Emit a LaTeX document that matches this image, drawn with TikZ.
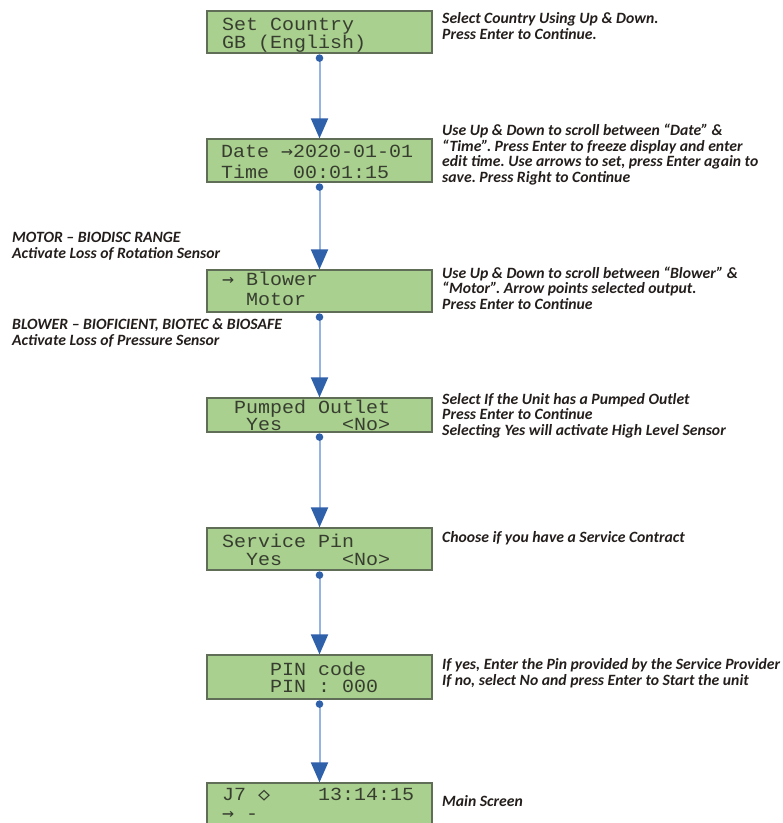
\documentclass[tikz,border=0pt]{standalone}
\usepackage{fontspec}
\usetikzlibrary{arrows.meta}
\newfontfamily\lcdfont[FakeStretch=1.08]{Liberation Mono}
\newfontfamily\lcdsym[FakeStretch=1.08]{DejaVu Sans Mono}
\newfontfamily\notefont{Carlito}
\frenchspacing
\definecolor{lcdgreen}{RGB}{169,208,142}
\definecolor{lcdedge}{RGB}{96,110,88}
\definecolor{lcdink}{RGB}{55,62,48}
\definecolor{flowline}{RGB}{150,180,225}
\definecolor{flowblue}{RGB}{47,96,170}
\definecolor{noteink}{RGB}{35,30,28}
\begin{document}
\begin{tikzpicture}[x=1pt,y=-1pt,
    lcd/.style={draw=lcdedge,line width=1.2pt,fill=lcdgreen,minimum width=225pt,minimum height=#1,inner sep=0pt},
    lcd/.default=42pt,
    row/.style={anchor=base west,inner sep=0pt,text=lcdink,font=\lcdfont\fontsize{18.5}{18.5}\selectfont},
    note/.style={anchor=base west,inner sep=0pt,align=left,text=noteink,font=\notefont\bfseries\itshape\fontsize{15.7}{15.5}\selectfont},
    flow/.style={draw=flowline,line width=2pt,-{Triangle[length=20pt,width=17pt,color=flowblue]}},
    dot/.style={fill=flowblue}]
    \useasboundingbox (0,0) rectangle (783,823);
    \clip (0,0) rectangle (783,823);
    \node[lcd] (country) at (319.5,32) {};
    \node[lcd=43pt] (date) at (319.5,160.5) {};
    \node[lcd] (output) at (319.5,291) {};
    \node[lcd=34pt] (pumped) at (319.5,415) {};
    \node[lcd] (service) at (319.5,549) {};
    \node[lcd=44pt] (pin) at (319.5,677) {};
    \node[lcd=57pt] (main) at (319.5,811.5) {};
    \foreach \a/\b in {country/date,date/output,output/pumped,pumped/service,service/pin,pin/main}{
      \draw[flow] ([yshift=-4.5pt]\a.south) -- (\b.north);
      \fill[dot] ([yshift=-4.5pt]\a.south) circle[radius=3.8pt];
    }
    \node[row] (country-a) at (222,30) {Set~Country};
    \node[row] (country-b) at (222,48) {GB~(English)};
    \node[row] (date-a) at (221,157) {Date~{\lcdsym →}2020-01-01};
    \node[row] (date-b) at (221,178) {Time~~00:01:15};
    \node[row] (output-a) at (222,285) {{\lcdsym →}~Blower};
    \node[row] (output-b) at (222,305) {~~Motor};
    \node[row] (pumped-a) at (222,413) {~Pumped~Outlet};
    \node[row] (pumped-b) at (222,430) {~~Yes~~~~~<No>};
    \node[row] (service-a) at (222,547) {Service~Pin};
    \node[row] (service-b) at (222,565) {~~Yes~~~~~<No>};
    \node[row] (pin-a) at (222,675) {~~~~PIN~code};
    \node[row] (pin-b) at (222,692) {~~~~PIN~:~000};
    \node[row] (main-a) at (222,800) {J7~{\lcdsym ◇}~~~~13:14:15};
    \node[row] (main-b) at (222,819) {{\lcdsym →}~-};
    \node[note] (country-note) at (442,39) {Select Country Using Up \& Down.\\Press Enter to Continue.};
    \node[note] (date-note) at (442,182) {Use Up \& Down to scroll between “Date” \&\\“Time”. Press Enter to freeze display and enter\\edit time. Use arrows to set, press Enter again to\\save. Press Right to Continue};
    \node[note] (output-note) at (442,309) {Use Up \& Down to scroll between “Blower” \&\\“Motor”. Arrow points selected output.\\Press Enter to Continue};
    \node[note] (pumped-note) at (442,435) {Select If the Unit has a Pumped Outlet\\Press Enter to Continue\\Selecting Yes will activate High Level Sensor};
    \node[note] (service-note) at (442,542) {Choose if you have a Service Contract};
    \node[note] (pin-note) at (442,685) {If yes, Enter the Pin provided by the Service Provider\\If no, select No and press Enter to Start the unit};
    \node[note] (main-note) at (442,806) {Main Screen};
    \node[note] (motor-note) at (12,258) {MOTOR – BIODISC RANGE\\Activate Loss of Rotation Sensor};
    \node[note] (blower-note) at (12,345) {BLOWER – BIOFICIENT, BIOTEC \& BIOSAFE\\Activate Loss of Pressure Sensor};
\end{tikzpicture}
\end{document}
